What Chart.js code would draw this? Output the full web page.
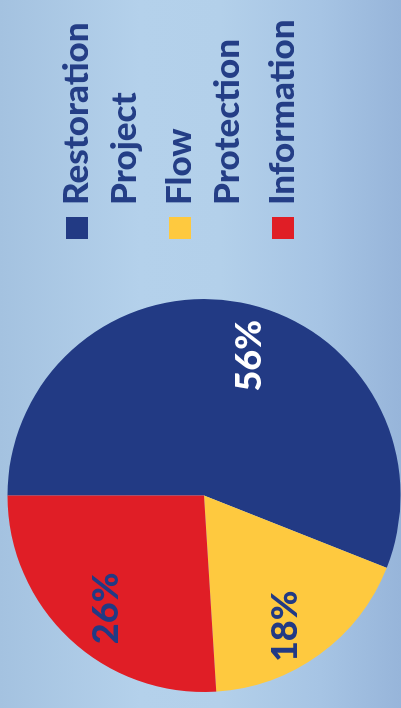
<!DOCTYPE html>
<html>
<head>
<meta charset="utf-8">
<script src="https://cdn.jsdelivr.net/npm/chart.js@4.4.1/dist/chart.umd.min.js"></script>
<style>
  html, body { margin: 0; padding: 0; }
  body {
    width: 401px; height: 708px; overflow: hidden; position: relative;
    background: linear-gradient(to right, #a4c2e0 0%, #b4d1eb 35%, #b3d0ea 55%, #a6c4e4 80%, #97b5da 100%);
  }
  #wrap {
    position: absolute; left: 0; top: 0; width: 708px; height: 401px;
    transform-origin: top left;
    transform: translateY(708px) rotate(-90deg);
  }
</style>
</head>
<body>
<div id="wrap"><canvas id="c" width="708" height="401"></canvas></div>
<script>
const categories = ['Restoration Project', 'Flow Protection', 'Information'];
const legendLines = [['Restoration', 'Project'], ['Flow', 'Protection'], ['Information']];
const values = [56, 18, 26];
const sliceColors = ['#223a84', '#fec93f', '#e01e26'];
const valueLabelColors = ['#ffffff', '#223a84', '#223a84'];

const FONT = 'Lato, "Open Sans", sans-serif';

const legendPlugin = {
  id: 'customLegend',
  afterDraw(chart) {
    const ctx = chart.ctx;
    ctx.save();
    ctx.font = '900 35px ' + FONT;
    ctx.textBaseline = 'alphabetic';
    ctx.textAlign = 'left';
    let baseline = 88;
    legendLines.forEach((lines, i) => {
      ctx.fillStyle = sliceColors[i];
      ctx.fillRect(469, baseline - 22, 22, 22);
      ctx.fillStyle = '#243e86';
      lines.forEach((t) => {
        ctx.fillText(t, 503, baseline);
        baseline += 48;
      });
      baseline += 7;
    });
    ctx.restore();
  }
};

const valueLabelPlugin = {
  id: 'valueLabels',
  afterDatasetsDraw(chart, args, opts) {
    const ctx = chart.ctx;
    const meta = chart.getDatasetMeta(0);
    ctx.save();
    ctx.font = '900 36px ' + FONT;
    ctx.textAlign = 'center';
    ctx.textBaseline = 'alphabetic';
    meta.data.forEach((arc, i) => {
      const p = arc.getProps(['x', 'y', 'startAngle', 'endAngle', 'outerRadius'], true);
      const mid = (p.startAngle + p.endAngle) / 2;
      const r = p.outerRadius * 0.76;
      const nudge = opts.nudge[i] || [0, 0];
      const x = p.x + Math.cos(mid) * r + nudge[0];
      const y = p.y + Math.sin(mid) * r + nudge[1];
      ctx.fillStyle = valueLabelColors[i];
      ctx.fillText(values[i] + '%', x, y + 13);
    });
    ctx.restore();
  }
};

new Chart(document.getElementById('c'), {
  type: 'pie',
  data: {
    labels: categories,
    datasets: [{
      data: values,
      backgroundColor: sliceColors,
      borderWidth: 0
    }]
  },
  options: {
    responsive: false,
    animation: false,
    layout: { padding: { left: 16, top: 7.5, right: 299, bottom: 0.5 } },
    plugins: {
      legend: { display: false },
      tooltip: { enabled: false },
      valueLabels: { nudge: [[-7, 16], [-10, -8], [-4, 3]] }
    }
  },
  plugins: [valueLabelPlugin, legendPlugin]
});
</script>
</body>
</html>
